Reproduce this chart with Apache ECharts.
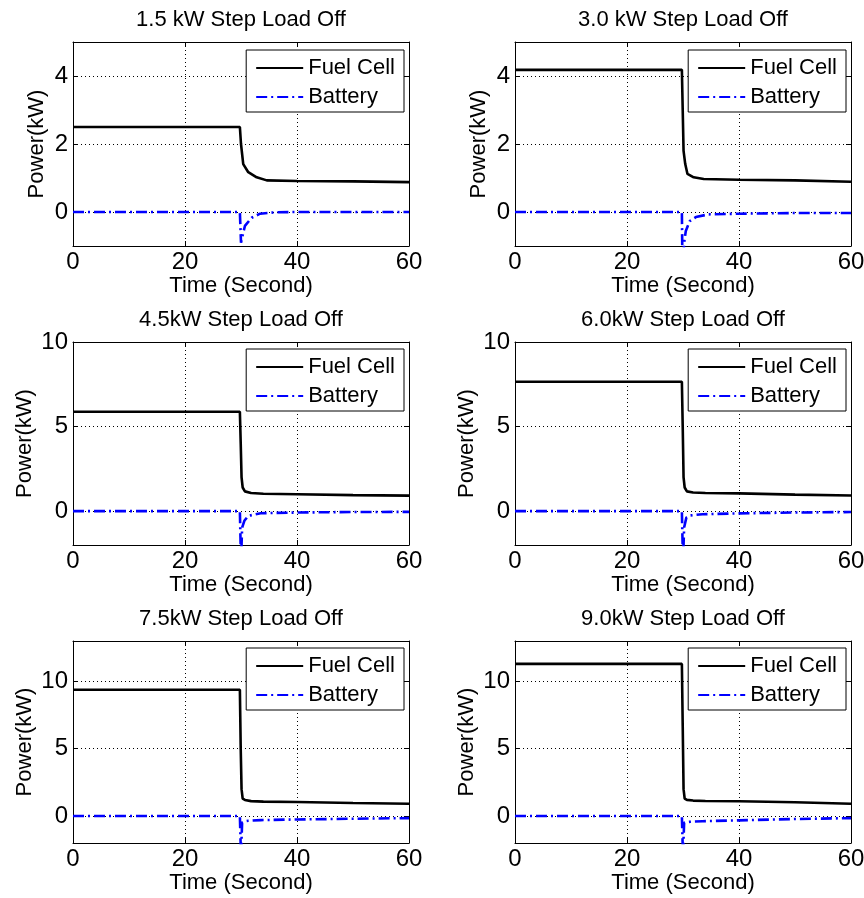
<!DOCTYPE html>
<html><head><meta charset="utf-8">
<script src="https://cdn.jsdelivr.net/npm/echarts@6/dist/echarts.min.js"></script>
<style>html,body{margin:0;padding:0;background:#fff}#c{width:864px;height:898px}</style>
</head><body><div id="c"></div>
<script>
// ---- data ----
const titles = ['1.5 kW Step Load Off', '3.0 kW Step Load Off', '4.5kW Step Load Off',
                '6.0kW Step Load Off', '7.5kW Step Load Off', '9.0kW Step Load Off'];
const xTicks = [0, 20, 40, 60];
const yTicksSmall = [0, 2, 4];
const yTicksLarge = [0, 5, 10];
const yMin = [-1, -1, -2, -2, -2, -2];
const yMax = [5, 5, 10, 10, 13, 13];

const tFc1 = [0, 29.8, 30.0, 30.4, 31.3, 32.8, 34.6, 40, 50, 60];
const fc1  = [2.5, 2.5, 2.0, 1.41, 1.17, 1.02, 0.93, 0.91, 0.9, 0.88];
const tBat1 = [0, 29.8, 30.0, 30.2, 30.7, 31.9, 33.4, 36, 40, 60];
const bat1  = [0, 0, -0.9, -0.75, -0.41, -0.17, -0.05, -0.01, 0, 0];

const tFc2 = [0, 29.8, 29.95, 30.1, 30.4, 30.8, 31.9, 33.7, 40, 50, 60];
const fc2  = [4.18, 4.18, 3.0, 1.8, 1.41, 1.12, 1.02, 0.97, 0.95, 0.93, 0.89];
const tBat2 = [0, 29.8, 29.9, 30.0, 30.2, 30.5, 31.2, 32.3, 34.5, 40, 50, 60];
const bat2  = [0, 0, -1.5, -1.6, -0.9, -0.56, -0.27, -0.15, -0.07, -0.05, -0.03, -0.03];

const tFcA  = [0, 29.8, 29.95, 30.1, 30.3, 30.7, 31.8, 34, 40, 50, 60];
const tBatA = [0, 29.8, 29.9, 30.0, 30.2, 30.6, 31.3, 33.5, 40, 50, 60];
const fc3  = [5.88, 5.88, 4.0, 2.0, 1.4, 1.17, 1.07, 1.03, 1.0, 0.95, 0.92];
const bat3 = [0, 0, -1.5, -3.0, -0.97, -0.57, -0.28, -0.12, -0.08, -0.05, -0.04];
const fc4  = [7.65, 7.65, 5.0, 2.0, 1.4, 1.17, 1.1, 1.07, 1.05, 0.98, 0.93];
const bat4 = [0, 0, -1.5, -3.0, -0.97, -0.38, -0.25, -0.18, -0.13, -0.08, -0.05];
const fc5  = [9.38, 9.38, 5.0, 2.0, 1.3, 1.2, 1.11, 1.07, 1.04, 0.97, 0.91];
const bat5 = [0, 0, -1.5, -3.0, -0.49, -0.4, -0.35, -0.3, -0.25, -0.2, -0.15];
const fc6  = [11.3, 11.3, 6.7, 2.0, 1.3, 1.2, 1.15, 1.12, 1.1, 1.03, 0.91];
const bat6 = [0, 0, -1.5, -3.0, -0.49, -0.45, -0.42, -0.38, -0.32, -0.22, -0.15];

const fcT  = [tFc1, tFc2, tFcA, tFcA, tFcA, tFcA];
const fcV  = [fc1, fc2, fc3, fc4, fc5, fc6];
const batT = [tBat1, tBat2, tBatA, tBatA, tBatA, tBatA];
const batV = [bat1, bat2, bat3, bat4, bat5, bat6];

// ---- layout ----
const FONT = 'Liberation Sans, Arial, Helvetica, sans-serif';
const colLeft = [73, 515];
const plotW = 336;
const rowTop = [42, 342, 641];
const rowH = [204, 203, 202];
const W = 864;

const grid = [], xAxis = [], yAxis = [], series = [], legend = [];
const dotted = {type: [1, 3], color: '#000', width: 1};
const frameLine = {show: true, onZero: false, lineStyle: {color: '#000', width: 1}};
const tick = (vals) => ({show: true, inside: true, length: 5, lineStyle: {color: '#000'},
                         ...(vals ? {customValues: vals} : {})});
for (let i = 0; i < 6; i++) {
  const c = i % 2, r = Math.floor(i / 2);
  grid.push({left: colLeft[c], top: rowTop[r], width: plotW, height: rowH[r],
             outerBoundsMode: 'none', containLabel: false});
  const yt = r === 0 ? yTicksSmall : yTicksLarge;
  xAxis.push({
    type: 'value', gridIndex: i, min: xTicks[0], max: xTicks[xTicks.length - 1], interval: 20,
    position: 'bottom',
    axisLine: frameLine, axisTick: tick(null),
    axisLabel: {fontSize: 24, color: '#000', margin: 4, fontFamily: FONT},
    splitLine: {show: true, lineStyle: dotted},
    name: 'Time (Second)', nameLocation: 'middle', nameGap: 29,
    nameTextStyle: {fontSize: 22, color: '#000', fontFamily: FONT}
  });
  xAxis.push({
    type: 'value', gridIndex: i, position: 'top', min: xTicks[0], max: xTicks[xTicks.length - 1], interval: 20,
    axisLine: frameLine, axisTick: tick(null),
    axisLabel: {show: false}, splitLine: {show: false},
    name: titles[i], nameLocation: 'middle', nameGap: 11,
    nameTextStyle: {fontSize: 22, color: '#000', fontFamily: FONT}
  });
  yAxis.push({
    type: 'value', gridIndex: i, min: yMin[i], max: yMax[i], position: 'left',
    axisLine: frameLine, axisTick: tick(yt),
    axisLabel: {fontSize: 24, color: '#000', margin: 5, customValues: yt, fontFamily: FONT},
    splitLine: {show: true, lineStyle: dotted},
    name: 'Power(kW)', nameLocation: 'middle', nameGap: r === 0 ? 25 : 37,
    nameTextStyle: {fontSize: 22, color: '#000', fontFamily: FONT}
  });
  yAxis.push({
    type: 'value', gridIndex: i, position: 'right', min: yMin[i], max: yMax[i],
    axisLine: frameLine, axisTick: tick(yt),
    axisLabel: {show: false}, splitLine: {show: false}
  });
  series.push({
    type: 'line', name: 'Fuel Cell', xAxisIndex: 2 * i, yAxisIndex: 2 * i,
    symbol: 'none', clip: true, z: 3,
    lineStyle: {color: '#000', width: 2.6},
    itemStyle: {color: '#000'},
    data: fcT[i].map((t, k) => [t, fcV[i][k]])
  });
  series.push({
    type: 'line', name: 'Battery', xAxisIndex: 2 * i, yAxisIndex: 2 * i,
    symbol: 'none', clip: true, z: 3,
    lineStyle: {color: '#0000ff', width: 2.6, type: [11, 4, 2, 4]},
    itemStyle: {color: '#0000ff'},
    data: batT[i].map((t, k) => [t, batV[i][k]])
  });
  legend.push({
    data: ['Fuel Cell', 'Battery'], orient: 'vertical',
    right: W - (colLeft[c] + plotW) + 5, top: rowTop[r] + (r === 0 ? 8 : 7),
    backgroundColor: '#fff', borderColor: '#000', borderWidth: 1, borderRadius: 0,
    padding: [7, 9, 4, 9], itemGap: 7, itemWidth: 47, itemHeight: 14,
    selectedMode: false, z: 10,
    itemStyle: {opacity: 0, borderWidth: 0},
    lineStyle: {width: 2},
    textStyle: {fontSize: 22, color: '#000', fontFamily: FONT, lineHeight: 22}
  });
}

const chart = echarts.init(document.getElementById('c'), null, {renderer: 'canvas'});
chart.setOption({
  backgroundColor: '#fff', animation: false,
  grid, xAxis, yAxis, series, legend
});
</script>
</body></html>
